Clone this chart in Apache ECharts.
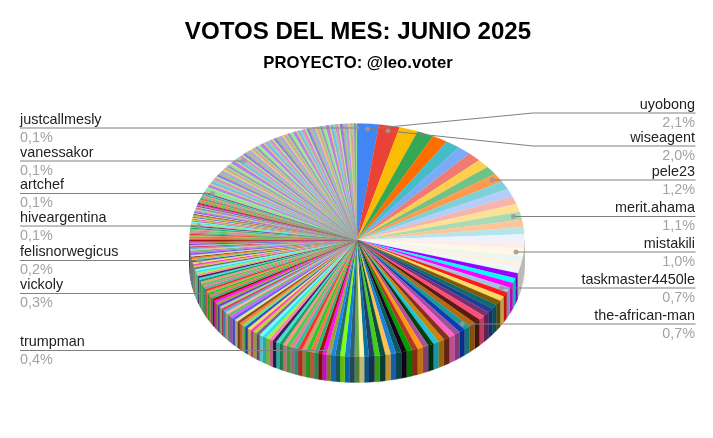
<!DOCTYPE html>
<html><head><meta charset="utf-8">
<style>html,body{margin:0;padding:0;background:#fff}#c{width:713px;height:438px}</style>
<script src="https://cdn.jsdelivr.net/npm/echarts@6/dist/echarts.min.js"></script>
</head><body><div id="c"></div>
<script>
// Slice shares in percent, clockwise from 12 o'clock
const valuesLeaders = [2.1,2.0,1.8,1.6,1.5,1.4,1.3,1.3,1.2,1.2,1.2,1.2,1.1,1.1,1.1,1.1,1.0,1.0,1.0,1.0,1.0,0.8,0.8,0.8];
const valuesHigh = [0.7,0.7,0.7,0.7,0.65,0.65,0.65,0.65,0.65,0.65,0.65,0.65,0.65,0.65];
const valuesMidA = [0.6,0.6,0.6,0.6,0.6,0.55,0.55,0.55,0.55,0.55,0.55,0.52,0.52,0.52,0.52,0.52,0.52,0.52,0.46,0.46,0.46,0.46,0.46,0.46,0.46,0.42,0.42];
const valuesMidB = [0.4,0.4,0.4,0.4,0.4,0.4,0.4,0.4,0.4,0.4,0.37,0.37,0.37,0.37,0.37,0.37,0.37,0.37,0.37,0.37,0.34,0.34,0.34,0.34,0.34,0.34,0.34,0.34,0.34,0.34,0.32,0.32,0.32,0.32,0.32,0.32,0.32,0.32,0.32,0.3];
const valuesLowA = [0.28,0.28,0.28,0.28,0.28,0.28,0.28,0.28,0.25,0.25,0.25,0.25,0.25,0.25,0.25,0.25,0.25,0.25,0.2];
const valuesLowB = [0.2,0.2,0.2,0.2,0.2,0.2,0.2,0.2,0.2,0.2,0.17,0.17,0.17,0.17,0.17,0.17,0.17,0.17,0.17,0.17,0.17,0.17,0.17,0.17,0.17,0.17,0.15,0.15,0.13];
const valuesTailA = [0.13,0.13,0.13,0.13,0.13,0.13,0.13,0.13,0.13,0.13,0.13,0.13,0.13,0.13,0.13,0.13,0.13,0.13,0.13,0.13,0.13,0.13,0.13,0.13,0.13,0.13,0.13,0.13,0.13,0.13,0.13,0.13,0.13,0.13,0.13,0.13,0.13];
const valuesTailB = [0.11,0.11,0.11,0.11,0.11,0.11,0.11,0.11,0.11,0.11,0.11,0.11,0.11,0.11,0.11,0.11,0.11,0.11,0.11,0.11,0.11,0.11,0.11,0.11,0.11,0.11,0.11,0.11,0.11,0.11,0.11,0.11,0.11,0.11,0.11,0.11,0.11,0.11,0.11,0.11,0.11,0.11,0.11,0.11,0.11,0.11,0.11,0.11,0.11];
const valuesTailC = [0.1,0.1,0.1,0.1,0.1,0.1,0.1,0.1,0.1,0.1,0.1,0.1,0.1,0.1,0.1,0.1,0.1,0.1,0.1,0.1,0.1,0.1,0.1,0.1,0.1,0.1,0.1,0.1,0.1,0.1,0.1,0.1,0.1,0.1,0.1,0.1,0.1,0.1,0.1,0.1,0.1,0.1,0.1,0.1,0.1,0.1,0.1,0.1,0.1,0.1,0.1,0.1,0.1,0.1,0.1,0.1,0.1,0.1,0.1,0.1];
const valuesTailD = [0.09,0.09,0.09,0.09,0.09,0.09,0.09,0.09,0.09,0.09,0.09,0.09,0.09,0.09,0.09,0.09,0.09,0.09,0.09,0.09,0.09,0.09,0.09,0.09,0.09,0.09,0.09,0.09,0.09,0.09,0.09,0.09,0.09,0.09,0.09,0.09,0.09,0.09,0.09,0.09,0.09,0.09,0.09,0.09,0.09,0.09,0.09,0.09,0.09,0.09,0.09,0.09,0.09,0.09,0.09,0.09,0.09,0.09,0.09,0.09,0.09,0.09,0.09,0.09,0.09,0.09,0.09,0.09,0.09,0.09,0.09,0.1];
const values = [].concat(valuesLeaders,valuesHigh,valuesMidA,valuesMidB,valuesLowA,valuesLowB,valuesTailA,valuesTailB,valuesTailC,valuesTailD);

// Labelled slices: name, shown percent, slice index, side and height of the leader
const labelNames = ['uyobong','wiseagent','pele23','merit.ahama','mistakili','taskmaster4450le','the-african-man','justcallmesly','vanessakor','artchef','hiveargentina','felisnorwegicus','vickoly','trumpman'];
const labelPercents = ['2,1%','2,0%','1,2%','1,1%','1,0%','0,7%','0,7%','0,1%','0,1%','0,1%','0,1%','0,2%','0,3%','0,4%'];
const labelSlices = [0,1,10,15,20,27,37,-1,238,189,152,123,104,64];
const labelLineY = [113,146,180,216.5,252,288,324,128,161,193.5,226,260.5,293.5,350.5];
const labelRight = [1,1,1,1,1,1,1,0,0,0,0,0,0,0];

const titleText = 'VOTOS DEL MES: JUNIO 2025';
const subtitleText = 'PROYECTO: @leo.voter';

const colorsFirst = ['#4285f4','#ea4335','#fbbc04','#34a853','#ff6d01','#46bdc6','#7baaf7','#f07b72','#fcd04f','#71c287','#ff994d','#7ed1d7','#b3cefb','#f7b4ae','#fde293','#a8dab5','#ffc599','#b5e5e8','#ecf3fe','#fdeceb','#fff8e6','#ebf7ee','#fff0e6','#edf8f9'];
const colorsStrong = ['#9900ff','#00ffff','#ff00ff','#a4c2e8','#ff1a1a','#ffd966','#7f5a00','#0f6b6b','#1c3f95','#7b2f6e','#ff4d79','#5b1a10','#b4690e','#1a9a9a','#0b3cb8','#a64d9d','#ff66c4','#85301c','#c8860b','#1fc4d8','#003f0f','#b0509a','#ff9912','#b03a20','#00a000','#1a001a','#0c5b5b','#1c7fe0','#ffc04d','#0a5040','#43cc1a','#1f3f66','#0b6fa8','#fff2a0','#6aa84f','#2f5f6f','#1080e0','#80ff10','#207070','#1a88e8'];
const colorsBright = ['#a0a030','#ff10ff','#a81010','#2bb673','#ff7050','#20d020','#c8a070','#ff3020','#30c0a0','#e080a0','#45d040','#ff9090','#1aa060','#40e0d0','#3a2060','#ff80b0','#a0f040','#30e0f0','#70ffff','#806090','#c0d040','#ff40c0','#f0e060','#3050d0','#70e080','#ff8030','#905020','#e0e0a0','#5060f0','#d060ff','#60c060','#ffb0a0','#50b0e0','#e04060','#90e090','#7040e0'];
const colorsSoft = ['#90e080','#80e070','#a0f090','#90d880','#b060f0','#c070ff','#a858e8','#d8c060','#e0c868','#70b0f0','#60a8e8','#78c0f8','#70d090','#80e0a0','#e070c0','#f080d0','#d868b8','#a0e878','#a8f080','#8070e0','#7868d8','#9080f0','#c0a070','#c8a878','#60c8b0','#68d0b8','#c878e8','#d080f0','#b8e070','#b0d868','#f09080','#e88878','#80d880','#88e088','#9870d8','#a078e0'];

// Layout of the tilted disc
const CX = 357, CY = 240, RX = 167.5, RY = 116.5, DEPTH = 26, ANCHOR_R = 0.955;
const TOTAL = values.reduce((a,b)=>a+b,0);
const starts = []; { let c = 0; values.forEach(v=>{ starts.push(c); c += v; }); }
const toAngle = s => s / TOTAL * Math.PI * 2;
const rimPoint = (a,r,dy) => [CX + RX*r*Math.sin(a), CY - RY*r*Math.cos(a) + (dy||0)];
const colorOf = i => {
  const a = colorsFirst.length, b = a + colorsStrong.length, c = 190;
  if (i < a) return colorsFirst[i];
  if (i < b) return colorsStrong[i-a];
  if (i < c) return colorsBright[(i-b) % colorsBright.length];
  return colorsSoft[(i-c) % colorsSoft.length];
};
const darker = hex => { const n = parseInt(hex.slice(1),16), f = 0.75;
  return 'rgb('+Math.round((n>>16&255)*f)+','+Math.round((n>>8&255)*f)+','+Math.round((n&255)*f)+')'; };
const arc = (a0,a1,dy) => { const n = Math.max(1,Math.ceil((a1-a0)/0.03)), p = [];
  for (let k=0;k<=n;k++) p.push(rimPoint(a0+(a1-a0)*k/n,1,dy)); return p; };

const renderTop = (params) => {
  const i = params.dataIndex, a0 = toAngle(starts[i]), a1 = toAngle(starts[i]+values[i]), c = colorOf(i);
  return {type:'polygon',shape:{points:[[CX,CY]].concat(arc(a0,a1,0))},style:{fill:c,stroke:c,lineWidth:0.15}};
};
const renderSide = (params) => {
  const i = params.dataIndex;
  const a0 = Math.max(toAngle(starts[i]),Math.PI/2), a1 = Math.min(toAngle(starts[i]+values[i]),Math.PI*1.5);
  if (a1 <= a0) return null;
  const c = darker(colorOf(i));
  return {type:'polygon',shape:{points:arc(a0,a1,0).concat(arc(a0,a1,DEPTH).reverse())},style:{fill:c,stroke:c,lineWidth:0.3}};
};
const renderLabel = (params) => {
  const i = params.dataIndex, right = labelRight[i], y = labelLineY[i], s = labelSlices[i] < 0 ? values.length-1 : labelSlices[i];
  const p = rimPoint(toAngle(starts[s]+values[s]/2),ANCHOR_R,0);
  const edge = right ? 695.5 : 20;
  const pts = (i < 2) ? [p,[533,y],[edge,y]] : [[p[0],y],[edge,y]];
  const tx = right ? 695 : 20, align = right ? 'right' : 'left';
  return {type:'group',children:[
    {type:'polyline',shape:{points:pts},style:{fill:'none',stroke:'#808080',lineWidth:1}},
    {type:'circle',shape:{cx:p[0],cy:(i<2?p[1]:y),r:2.5},style:{fill:'#9a9a9a',opacity:0.85}},
    {type:'text',style:{text:labelNames[i],x:tx,y:y-1,align:align,verticalAlign:'bottom',fill:'#222222',font:'14.4px "Liberation Sans", Arial'}},
    {type:'text',style:{text:labelPercents[i],x:tx,y:y+3,align:align,verticalAlign:'top',fill:'#a3a3a3',font:'14.4px "Liberation Sans", Arial'}}
  ]};
};

const chart = echarts.init(document.getElementById('c'),null,{renderer:'canvas'});
chart.setOption({
  animation:false,
  backgroundColor:'#ffffff',
  title:[
    {text:titleText,left:353,top:15,textAlign:'center',textStyle:{fontFamily:'"Liberation Sans", Arial',fontSize:24.1,fontWeight:'bold',color:'#000000'}},
    {text:subtitleText,left:353,top:50,textAlign:'center',textStyle:{fontFamily:'"Liberation Sans", Arial',fontSize:16.7,fontWeight:'bold',color:'#000000'}}
  ],
  series:[
    {type:'custom',coordinateSystem:'none',silent:true,z:1,data:values,renderItem:renderSide},
    {type:'custom',coordinateSystem:'none',silent:true,z:2,data:values,renderItem:renderTop},
    {type:'custom',coordinateSystem:'none',silent:true,z:3,data:labelNames,renderItem:renderLabel}
  ]
});
</script></body></html>
